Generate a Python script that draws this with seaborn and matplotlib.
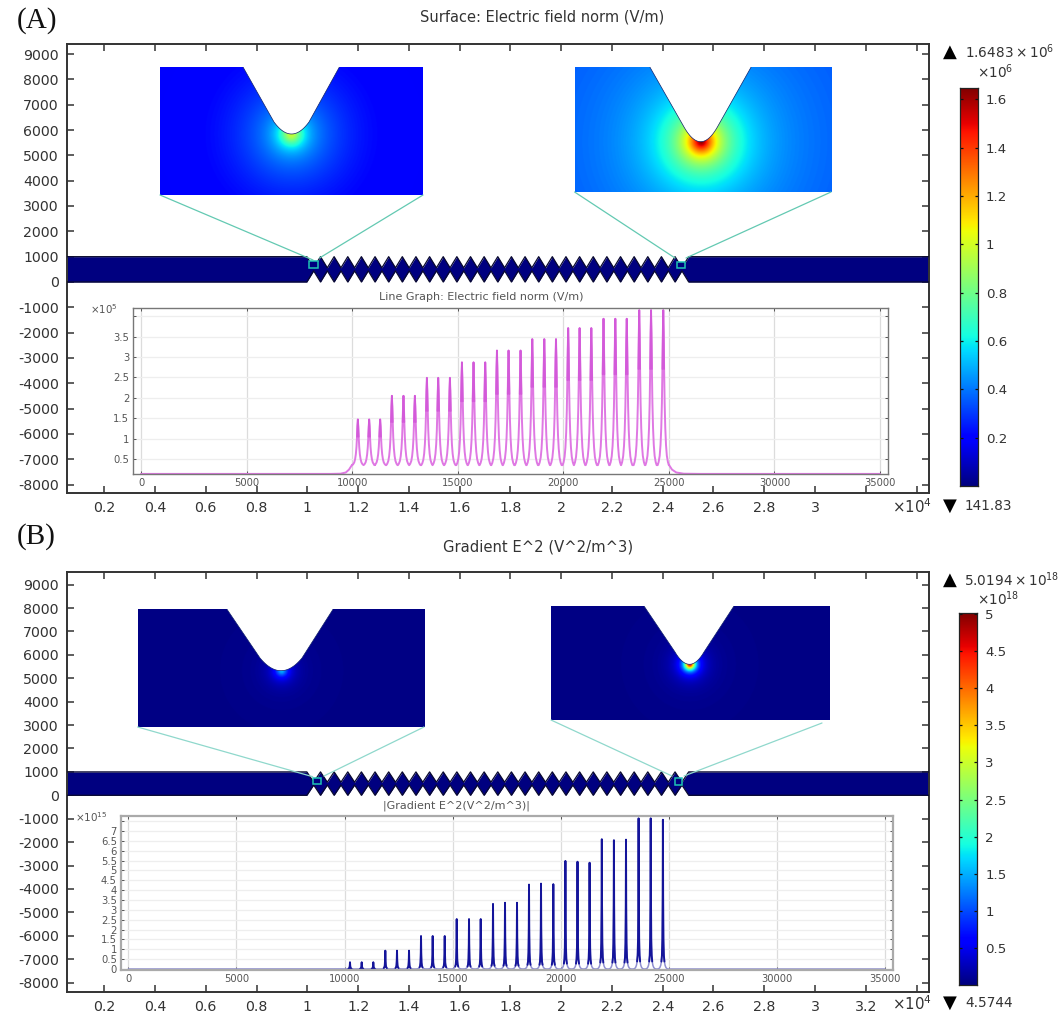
import numpy as np
import matplotlib
matplotlib.use('Agg')
import matplotlib.pyplot as plt
import seaborn as sns

W, H = 1060, 1016
DARK = '#333333'

#tick values and labels of the big axes
main_xticks = [2000, 4000, 6000, 8000, 10000, 12000, 14000, 16000, 18000, 20000, 22000, 24000, 26000, 28000, 30000, 32000, 34000]
main_xlabels_a = ['0.2', '0.4', '0.6', '0.8', '1', '1.2', '1.4', '1.6', '1.8', '2', '2.2', '2.4', '2.6', '2.8', '3', '', '']
main_xlabels_b = ['0.2', '0.4', '0.6', '0.8', '1', '1.2', '1.4', '1.6', '1.8', '2', '2.2', '2.4', '2.6', '2.8', '3', '3.2', '']
main_yticks = [9000, 8000, 7000, 6000, 5000, 4000, 3000, 2000, 1000, 0, -1000, -2000, -3000, -4000, -5000, -6000, -7000, -8000]

#electrode geometry (27 diamonds)
diamond_first = 10518
diamond_last = 24486
diamond_count = 27
notch_top = 560
notch_bottom = 440

#line graph A, electric field norm (x10^5)
peaks_a = [10270, 10806, 11327, 11882, 12431, 12971, 13540, 14076, 14630, 15199, 15749, 16303, 16858, 17408,
           17976, 18531, 19100, 19654, 20232, 20773, 21327, 21905, 22464, 23005, 23597, 24156, 24735]
heights_a = [1.47, 1.47, 1.47, 2.05, 2.05, 2.05, 2.49, 2.49, 2.49, 2.87, 2.87, 2.87, 3.16, 3.16,
             3.16, 3.44, 3.44, 3.44, 3.71, 3.71, 3.71, 3.94, 3.94, 3.94, 4.15, 4.15, 4.15]
valley_a = 0.35
lead_x_a = [0, 9000, 9450, 9700, 9850, 10000]
lead_y_a = [0.135, 0.135, 0.14, 0.17, 0.24, 0.36]
tail_x_a = [25000, 25150, 25350, 25700, 26500, 35000]
tail_y_a = [0.36, 0.24, 0.17, 0.14, 0.135, 0.135]
profile_off_a = [265, 220, 170, 130, 95, 65, 40, 20, 0]
profile_frac_a = [0, 0.02, 0.06, 0.13, 0.24, 0.40, 0.62, 0.85, 1]
core_off_a = [40, 20, 0]
core_frac_a = [0.62, 0.85, 1]

#line graph B, gradient E^2 (x10^15)
peaks_b = [10254, 10795, 11332, 11887, 12428, 12984, 13539, 14079, 14635, 15190, 15759, 16300, 16869, 17424,
           17979, 18534, 19089, 19658, 20217, 20777, 21336, 21901, 22461, 23020, 23603, 24163, 24727]
heights_b = [0.34, 0.34, 0.34, 0.93, 0.93, 0.93, 1.67, 1.67, 1.67, 2.53, 2.53, 2.53, 3.30, 3.36,
             3.36, 4.28, 4.33, 4.30, 5.48, 5.44, 5.39, 6.58, 6.53, 6.56, 7.64, 7.64, 7.57]
profile_off_b = [250, 190, 140, 100, 70, 45, 25, 10, 0]
profile_frac_b = [0, 0.002, 0.01, 0.025, 0.05, 0.09, 0.15, 0.4, 1]
core_off_b = [70, 45, 25, 10, 0]
core_frac_b = [0.05, 0.09, 0.2, 0.5, 1]

#sub axis ticks
sub_xticks = [0, 5000, 10000, 15000, 20000, 25000, 30000, 35000]
sub_yticks_a = [0.5, 1, 1.5, 2, 2.5, 3, 3.5, 4]
sub_ylabels_a = ['0.5', '1', '1.5', '2', '2.5', '3', '3.5', '']
sub_yticks_b = [0, 0.5, 1, 1.5, 2, 2.5, 3, 3.5, 4, 4.5, 5, 5.5, 6, 6.5, 7, 7.5]
sub_ylabels_b = ['0', '0.5', '1', '1.5', '2', '2.5', '3', '3.5', '4', '4.5', '5', '5.5', '6', '6.5', '7', '']

#colorbars
cbar_ticks_a = [0.2, 0.4, 0.6, 0.8, 1, 1.2, 1.4, 1.6]
cbar_labels_a = ['0.2', '0.4', '0.6', '0.8', '1', '1.2', '1.4', '1.6']
cbar_max_a = 1.6483
cbar_ticks_b = [0.5, 1, 1.5, 2, 2.5, 3, 3.5, 4, 4.5, 5]
cbar_labels_b = ['0.5', '1', '1.5', '2', '2.5', '3', '3.5', '4', '4.5', '5']
cbar_max_b = 5.0194

sns.set_theme(style='white', font='DejaVu Sans')
plt.rcParams['text.color'] = DARK
plt.rcParams['mathtext.default'] = 'regular'


def rect(l, t, r, b):
    return [l / W, 1 - b / H, (r - l) / W, (b - t) / H]


def put(x, y, s, **kw):
    kw.setdefault('va', 'center')
    kw.setdefault('ha', 'left')
    fig.text(x / W, 1 - y / H, s, **kw)


def main_axes(box, xlim, ylim, xlabels):
    ax = fig.add_axes(rect(*box))
    ax.set_xlim(*xlim)
    ax.set_ylim(*ylim)
    ax.set_xticks(main_xticks, xlabels)
    ax.set_yticks(main_yticks, [str(v) if v >= 0 else '-' + str(-v) for v in main_yticks])
    ax.tick_params(direction='in', length=5, width=1.1, color=DARK, labelcolor=DARK, labelsize=10.2,
                   top=True, right=True, pad=6, left=True, bottom=True)
    for s in ax.spines.values():
        s.set_color(DARK)
        s.set_linewidth(1.4)
    #device outline
    pitch = (diamond_last - diamond_first) / (diamond_count - 1)
    centres = np.linspace(diamond_first, diamond_last, diamond_count)
    top_x = [xlim[0], diamond_first - pitch, diamond_first - pitch / 2]
    top_y = [1000, 1000, notch_top]
    bot_y = [0, 0, notch_bottom]
    for c in centres:
        top_x += [c, c + pitch / 2]
        top_y += [1000, notch_top]
        bot_y += [0, notch_bottom]
    top_x += [diamond_last + pitch, xlim[1]]
    top_y += [1000, 1000]
    bot_y += [0, 0]
    ax.fill_between(top_x, bot_y, top_y, color='#000080', lw=0, zorder=2)
    ax.plot(top_x, top_y, color='#0a0a30', lw=0.9, zorder=3)
    ax.plot(top_x, bot_y, color='#0a0a30', lw=0.9, zorder=3)
    return ax


def trace(peaks, heights, floor, off, frac):
    off = np.array(off, dtype=float)
    frac = np.array(frac, dtype=float)
    xs, ys = [], []
    for p, h in zip(peaks, heights):
        xs += list(p - off) + list(p + off[-2::-1])
        ys += list(floor + (h - floor) * frac) + list(floor + (h - floor) * frac[-2::-1])
    return xs, ys


def sub_axes(box, xlim, ylim, yticks, ylabels, spine_col, spine_w):
    ax = fig.add_axes(rect(*box))
    ax.set_xlim(*xlim)
    ax.set_ylim(*ylim)
    ax.set_xticks(sub_xticks, [str(v) for v in sub_xticks])
    ax.set_yticks(yticks, ylabels)
    ax.grid(True, axis='x', color='#dcdcdc', lw=0.9)
    ax.grid(True, axis='y', color='#eeeeee', lw=0.9)
    ax.set_axisbelow(True)
    ax.tick_params(direction='in', length=2.2, width=0.7, color='#555555', labelcolor='#555555', labelsize=7.2,
                   top=True, right=True, left=True, bottom=True, pad=3)
    for s in ax.spines.values():
        s.set_color(spine_col)
        s.set_linewidth(spine_w)
    return ax


def inset(box, notch, field):
    l, t, r, b = box
    tl, tr, shl, shr, shy, tipx, tipy = notch
    ax = fig.add_axes(rect(*box))
    ax.set_xlim(l, r)
    ax.set_ylim(b, t)
    ax.axis('off')
    gx, gy = np.meshgrid(np.linspace(l, r, 500), np.linspace(t, b, 300))
    dist = np.hypot(gx - tipx, gy - tipy)
    ax.imshow(field(dist), extent=(l, r, b, t), cmap='jet', vmin=0, vmax=1, aspect='auto', interpolation='bilinear')
    arc_x = np.linspace(shl, shr, 30)
    half = (shr - shl) / 2
    arc_y = shy + (tipy - shy) * (1 - ((arc_x - (shl + shr) / 2) / half) ** 2)
    px = [tl] + list(arc_x) + [tr]
    py = [t] + list(arc_y) + [t]
    ax.fill(px + [tr, tl], py + [t - 4, t - 4], color='white', lw=0, zorder=3)
    ax.plot(px, py, color='#10206a', lw=0.5, zorder=4)
    ax.set_xlim(l, r)
    ax.set_ylim(b, t)


def colorbar(box, vmax, ticks, labels):
    ax = fig.add_axes(rect(*box))
    grad = np.linspace(1, 0, 256).reshape(-1, 1)
    ax.imshow(grad, extent=(0, 1, 0, vmax), cmap='jet', aspect='auto', vmin=0, vmax=1)
    ax.set_xticks([])
    ax.set_yticks(ticks, labels)
    ax.tick_params(axis='y', direction='in', length=2.5, width=0.9, color='#111111', labelcolor=DARK,
                   labelsize=9.6, left=True, right=True, labelleft=False, labelright=True, pad=6)
    for s in ax.spines.values():
        s.set_color('#222222')
        s.set_linewidth(0.9)


fig = plt.figure(figsize=(W / 100, H / 100), dpi=100)

#panel A
main_axes((67, 44, 929, 493), (532, 34490), (-8330, 9395), main_xlabels_a)
ax_a = sub_axes((133.3, 308, 887.5, 474.3), (-365, 35355), (0.125, 4.204), sub_yticks_a, sub_ylabels_a, '#777777', 1.0)
tx, ty = trace(peaks_a, heights_a, valley_a, profile_off_a, profile_frac_a)
sns.lineplot(x=lead_x_a + tx + tail_x_a, y=lead_y_a + ty + tail_y_a, ax=ax_a, color='#df78e3', lw=1.4,
             estimator=None, sort=False)
for p, h in zip(peaks_a, heights_a):
    cx, cy = trace([p], [h], valley_a, core_off_a, core_frac_a)
    sns.lineplot(x=cx, y=cy, ax=ax_a, color='#d35ad9', lw=1.2, estimator=None, sort=False)
inset((160, 67, 423, 195), (243, 339.4, 274, 309, 122, 291.4, 134),
      lambda r: 0.11 + 0.38 / (1 + (r / 11) ** 2) + 0.1 * np.exp(-(r / 60) ** 2))
inset((574.6, 67.3, 831, 192), (650, 751, 684, 717.4, 127, 700.7, 141.7),
      lambda r: 0.18 + 0.82 / (1 + (r / 18) ** 1.4))
colorbar((959.6, 87.7, 977.5, 486), cbar_max_a, cbar_ticks_a, cbar_labels_a)

#panel B
main_axes((67, 571.7, 929, 991.7), (532, 34490), (-8390, 9552), main_xlabels_b)
ax_b = sub_axes((121, 816, 892.9, 970), (-338, 35365), (-0.05, 7.76), sub_yticks_b, sub_ylabels_b, '#aaaaaa', 1.6)
tx, ty = trace(peaks_b, heights_b, 0, profile_off_b, profile_frac_b)
sns.lineplot(x=[0] + tx + [35000], y=[0] + ty + [0], ax=ax_b, color='#8f8fd0', lw=1.1, estimator=None, sort=False)
for p, h in zip(peaks_b, heights_b):
    cx, cy = trace([p], [h], 0, core_off_b, core_frac_b)
    sns.lineplot(x=cx, y=cy, ax=ax_b, color='#14149a', lw=1.4, estimator=None, sort=False)
inset((137.6, 609.3, 424, 727), (227, 333, 260, 302, 658, 281, 670.7),
      lambda r: 0.005 + 0.3 / (1 + (r / 6) ** 2))
inset((551, 606, 829.5, 720), (644, 734, 675, 704, 652, 689.6, 664.3),
      lambda r: 0.005 + 0.9 / (1 + (r / 5) ** 2.2))
colorbar((959, 612.7, 977, 985), cbar_max_b, cbar_ticks_b, cbar_labels_b)

#leader lines and zoom squares
over = fig.add_axes([0, 0, 1, 1])
over.set_xlim(0, W)
over.set_ylim(H, 0)
over.axis('off')
over.patch.set_alpha(0)
lines = [((160, 195), (313, 260), '#63c9b2'), ((423, 195), (319.5, 258), '#63c9b2'),
         ((574.6, 192), (675, 258), '#63c9b2'), ((831, 192), (686, 258), '#63c9b2'),
         ((137.6, 727), (312.7, 776.7), '#8fd8cc'), ((424, 727), (323.9, 776), '#8fd8cc'),
         ((551, 720), (672, 776), '#8fd8cc'), ((822, 723), (684, 776), '#8fd8cc')]
for a, b, c in lines:
    over.plot([a[0], b[0]], [a[1], b[1]], color=c, lw=0.9)
for x0, y0, x1, y1 in [(309, 261, 318, 268), (677, 262, 685.4, 268), (313.3, 778, 320.7, 783.5), (675, 778, 682, 785)]:
    over.fill([x0, x1, x1, x0], [y0, y0, y1, y1], facecolor='#00007f', edgecolor='#1fc4b4', lw=1.1)

#titles and labels
serif = 'Liberation Serif'
put(17, 21, '(A)', family=serif, fontsize=21, color='#111111')
put(17, 537, '(B)', family=serif, fontsize=21, color='#111111')
put(542, 16.7, 'Surface: Electric field norm (V/m)', ha='center', fontsize=10.5)
put(538, 546.7, 'Gradient E^2 (V^2/m^3)', ha='center', fontsize=10.6)
put(481, 297, 'Line Graph: Electric field norm (V/m)', ha='center', fontsize=8, color='#555555')
put(456, 805.5, '|Gradient E^2(V^2/m^3)|', ha='center', fontsize=8, color='#555555')
put(90, 309, r'$\times10^{5}$', fontsize=7.4, color='#555555')
put(75, 817, r'$\times10^{15}$', fontsize=7.5, color='#555555')
put(892, 507, r'$\times10^{4}$', fontsize=10.8)
put(892, 1004, r'$\times10^{4}$', fontsize=10.8)
put(943, 52, '▲', fontsize=13, color='black')
put(965, 52, r'$1.6483\times10^{6}$', fontsize=9.8)
put(977, 72, r'$\times10^{6}$', fontsize=9.8)
put(943, 506, '▼', fontsize=13, color='black')
put(965, 506, '141.83', fontsize=9.8)
put(943, 580, '▲', fontsize=13, color='black')
put(964, 580, r'$5.0194\times10^{18}$', fontsize=9.8)
put(977, 599, r'$\times10^{18}$', fontsize=9.8)
put(943, 1003, '▼', fontsize=13, color='black')
put(965, 1003, '4.5744', fontsize=9.8)

fig.savefig('out.png', dpi=100)
